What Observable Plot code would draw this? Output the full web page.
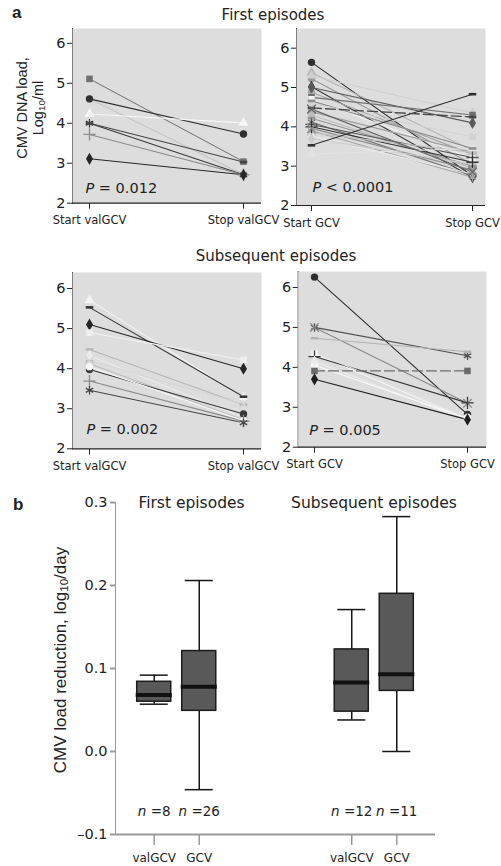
<!DOCTYPE html>
<html><head><meta charset="utf-8">
<script src="https://cdn.jsdelivr.net/npm/d3@7"></script>
<script src="https://cdn.jsdelivr.net/npm/@observablehq/plot@0.6"></script>
<style>
html,body{margin:0;padding:0;background:#fff;}
#fig{position:relative;width:501px;height:866px;overflow:hidden;font-family:"DejaVu Sans",sans-serif;color:#222;}
.lbl{position:absolute;white-space:nowrap;line-height:1;color:#222;}
.lbl sub{font-size:0.68em;vertical-align:-0.22em;line-height:0;}
.pa [aria-label^="x-axis"] text{font-size:11.5px;}
.pa [aria-label^="y-axis"] text{font-size:14.5px;}
#b1 [aria-label^="x-axis"] text{font-size:12px;fill:#222;}
#b1 [aria-label^="x-axis"] line, #b1 [aria-label^="x-axis"] path{stroke-width:1.5px;}
#b2 text{fill:#222;font-size:14.5px;}
#b2 [aria-label^="y-axis"] line, #b2 [aria-label^="y-axis"] path{stroke-width:2px;}
</style></head>
<body><div id="fig"></div>
<script>
// ---------- DATA ----------
// Panel a: CMV DNA load (log10/ml) at start and stop of treatment
const phasesValGCV = ["Start valGCV", "Stop valGCV"];
const phasesGCV = ["Start GCV", "Stop GCV"];
const loadTicks = [2, 3, 4, 5, 6];

// First episodes, valGCV (n = 8)
const firstValStart = [4.61, 5.11, 4.61, 4.23, 4.00, 4.00, 3.72, 3.11];
const firstValStop  = [2.71, 3.04, 3.73, 4.01, 2.71, 3.03, 2.71, 2.71];
const firstValP = "P = 0.012";

// First episodes, GCV (n = 26)
const firstGcvStart = [5.64, 5.38, 5.30, 5.22, 5.02, 5.00, 4.88, 4.75, 4.70, 4.66, 4.60, 4.48, 4.38,
                       4.30, 4.22, 4.12, 4.06, 4.00, 3.96, 3.90, 3.85, 3.76, 3.70, 3.53, 3.31, 4.45];
const firstGcvStop  = [2.75, 3.40, 4.35, 3.05, 2.72, 4.10, 3.30, 4.30, 3.20, 3.45, 3.75, 4.25, 3.35,
                       2.95, 3.00, 2.76, 3.22, 3.10, 2.90, 2.72, 3.35, 2.80, 3.05, 4.83, 3.45, 2.85];
const firstGcvP = "P < 0.0001";

// Subsequent episodes, valGCV (n = 12)
const subsValStart = [5.71, 5.53, 5.10, 4.90, 4.48, 4.32, 4.12, 3.98, 3.69, 3.46, 4.20, 4.05];
const subsValStop  = [3.28, 3.30, 4.00, 4.22, 3.10, 2.78, 2.72, 2.87, 2.69, 2.65, 3.12, 2.70];
const subsValP = "P = 0.002";

// Subsequent episodes, GCV (n = 11)
const subsGcvStart = [6.26, 5.00, 5.00, 4.73, 4.34, 4.27, 4.15, 3.91, 3.70, 4.38, 4.05];
const subsGcvStop  = [2.82, 4.29, 3.10, 4.39, 2.70, 3.11, 2.66, 3.91, 2.69, 2.75, 2.72];
const subsGcvP = "P = 0.005";

// Panel b: CMV load reduction (log10/day) box plots
const boxEpisode = ["First episodes", "First episodes", "Subsequent episodes", "Subsequent episodes"];
const boxDrug    = ["valGCV", "GCV", "valGCV", "GCV"];
const boxLow     = [0.057, -0.046, 0.038, 0.000];
const boxQ1      = [0.060, 0.049, 0.048, 0.073];
const boxMedian  = [0.068, 0.078, 0.083, 0.093];
const boxQ3      = [0.084, 0.121, 0.123, 0.190];
const boxHigh    = [0.092, 0.206, 0.171, 0.283];
const boxN       = [8, 26, 12, 11];
const drugs = ["valGCV", "GCV"];
const episodes = ["First episodes", "Subsequent episodes"];
const rateTicks = [-0.1, 0, 0.1, 0.2, 0.3];

// ---------- STYLES (per series) ----------
const firstValShade  = ["#c4c4c4", "#707070", "#303030", "#f6f6f6", "#3a3a3a", "#474747", "#8a8a8a", "#262626"];
const firstValMarker = ["circle", "square", "circle", "triangle", "asterisk", "dash", "plus", "diamond"];
const firstValDashed = [];

const firstGcvShade  = ["#2e2e2e", "#b5b5b5", "#cfcfcf", "#9a9a9a", "#3d3d3d", "#5a5a5a", "#a8a8a8", "#6e6e6e", "#f2f2f2",
                        "#8c8c8c", "#d2d2d2", "#474747", "#a0a0a0", "#bcbcbc", "#959595", "#7a7a7a", "#555555", "#333333",
                        "#8f8f8f", "#a5a5a5", "#c0c0c0", "#ececec", "#cccccc", "#2f2f2f", "#e2e2e2", "#666666"];
const firstGcvMarker = ["circle", "triangle", "triangle", "circle", "diamond", "diamond", "circle", "square", "square",
                        "dash", "square", "dash", "circle", "circle", "dash", "asterisk", "plus", "plus",
                        "times", "asterisk", "triangle", "diamond", "diamond", "dash", "triangle", "times"];
const firstGcvDashed = [11];

const subsValShade  = ["#f4f4f4", "#333333", "#262626", "#efefef", "#b5b5b5", "#ebebeb", "#bdbdbd", "#3a3a3a", "#8a8a8a", "#474747", "#d6d6d6", "#f7f7f7"];
const subsValMarker = ["triangle", "dash", "diamond", "square", "dash", "diamond", "square2", "circle", "plus", "asterisk", "times", "circle"];
const subsValDashed = [];

const subsGcvShade  = ["#2e2e2e", "#505050", "#8a8a8a", "#b3b3b3", "#f5f5f5", "#3a3a3a", "#ececec", "#6b6b6b", "#1f1f1f", "#e0e0e0", "#fafafa"];
const subsGcvMarker = ["circle", "asterisk", "times", "dash", "square", "plus", "diamond", "square", "diamond", "circle", "circle"];
const subsGcvDashed = [7];

// ---------- HELPERS ----------
const fig = document.getElementById("fig");
function place(el, left, top, id, cls) {
  el.style.position = "absolute";
  el.style.left = left + "px";
  el.style.top = top + "px";
  if (id) el.id = id;
  if (cls) el.classList.add(cls);
  fig.appendChild(el);
  return el;
}
function label(html, x, baseline, size, {anchor = "middle", weight = "normal", family = "DejaVu Sans"} = {}) {
  const d = document.createElement("div");
  d.className = "lbl";
  d.innerHTML = html;
  d.style.fontSize = size + "px";
  d.style.fontWeight = weight;
  d.style.fontFamily = family;
  d.style.top = (baseline - 0.846 * size) + "px";
  d.style.left = x + "px";
  if (anchor === "middle") d.style.transform = "translateX(-50%)";
  fig.appendChild(d);
}
function vlabel(html, cx, cy, size, lineHeight, family) {
  const d = document.createElement("div");
  d.className = "lbl";
  d.innerHTML = html;
  d.style.fontSize = size + "px";
  d.style.lineHeight = lineHeight + "px";
  d.style.fontFamily = family;
  d.style.textAlign = "center";
  d.style.left = cx + "px";
  d.style.top = cy + "px";
  d.style.transform = "translate(-50%,-50%) rotate(-90deg)";
  fig.appendChild(d);
}
function italicize(svg) {
  svg.querySelectorAll("text").forEach(t => {
    let node = t;
    while (node.children.length === 1) node = node.children[0];
    if (node.children.length) return;
    const s = node.textContent;
    if (/^[Pn] [=<]/.test(s)) {
      node.textContent = "";
      const i = document.createElementNS("http://www.w3.org/2000/svg", "tspan");
      i.setAttribute("font-style", "italic");
      i.textContent = s[0];
      node.appendChild(i);
      node.appendChild(document.createTextNode(s.slice(1)));
    }
  });
}
const dashSymbol = {
  draw(ctx, size) {
    const w = Math.sqrt(size) * 1.15, h = w * 0.34;
    ctx.moveTo(-w / 2, -h / 2); ctx.lineTo(w / 2, -h / 2); ctx.lineTo(w / 2, h / 2); ctx.lineTo(-w / 2, h / 2); ctx.closePath();
  }
};
const hollow = new Set(["asterisk", "plus", "times", "square2", "triangle2", "diamond2"]);

function loadPanel({start, stop, shade, marker, dashed, phases, p, domain, width, height, mt, mb, ml, mr, insetL, insetR, pdx, pdy}) {
  const rows = [];
  start.forEach((v, i) => {
    const s = {id: i, shade: shade[i], marker: marker[i], dashed: dashed.includes(i)};
    rows.push({...s, phase: phases[0], value: v});
    rows.push({...s, phase: phases[1], value: stop[i]});
  });
  const types = [...new Set(rows.map(r => r.marker))];
  const dots = types.map(t => {
    const sub = rows.filter(r => r.marker === t);
    const sym = t === "dash" ? dashSymbol : t;
    return hollow.has(t)
      ? Plot.dot(sub, {x: "phase", y: "value", symbol: sym, stroke: "shade", strokeWidth: 1.3, r: 4})
      : Plot.dot(sub, {x: "phase", y: "value", symbol: sym, fill: "shade", stroke: "none", r: 3.7});
  });
  const svg = Plot.plot({
    width, height, marginTop: mt, marginBottom: mb, marginLeft: ml, marginRight: mr,
    style: {background: "none", color: "#222", fontFamily: "DejaVu Sans", fontSize: "12px", overflow: "visible"},
    x: {type: "point", domain: phases, padding: 0, insetLeft: insetL, insetRight: insetR, tickSize: 6, tickPadding: 7, label: null},
    y: {domain, ticks: loadTicks, tickFormat: d => String(d), tickSize: 5, tickPadding: 2, line: true, label: null},
    color: {type: "identity"},
    marks: [
      Plot.frame({fill: "#dddddd"}),
      Plot.ruleY([domain[0]], {stroke: "#222", strokeWidth: 1.2}),
      Plot.line(rows.filter(r => !r.dashed), {x: "phase", y: "value", z: "id", stroke: "shade", strokeWidth: 1.1}),
      Plot.line(rows.filter(r => r.dashed), {x: "phase", y: "value", z: "id", stroke: "shade", strokeWidth: 1.3, strokeDasharray: "10,4"}),
      ...dots,
      Plot.text([p], {text: d => d, frameAnchor: "bottom-left", textAnchor: "start", lineAnchor: "middle", dx: pdx, dy: pdy, fontSize: 14.5, fill: "#222"})
    ]
  });
  italicize(svg);
  return svg;
}

// ---------- PANEL a ----------
place(loadPanel({start: firstValStart, stop: firstValStop, shade: firstValShade, marker: firstValMarker, dashed: firstValDashed,
  phases: phasesValGCV, p: firstValP, domain: [2, 6.37], width: 265, height: 225, mt: 28, mb: 22.3, ml: 72, mr: 4,
  insetL: 17, insetR: 18, pdx: 13, pdy: -15}), 0, 0, "tl", "pa");
place(loadPanel({start: firstGcvStart, stop: firstGcvStop, shade: firstGcvShade, marker: firstGcvMarker, dashed: firstGcvDashed,
  phases: phasesGCV, p: firstGcvP, domain: [2, 6.5], width: 261, height: 225, mt: 28, mb: 20, ml: 56, mr: 16,
  insetL: 15, insetR: 12.3, pdx: 16, pdy: -18}), 240, 0, "tr", "pa");
place(loadPanel({start: subsValStart, stop: subsValStop, shade: subsValShade, marker: subsValMarker, dashed: subsValDashed,
  phases: phasesValGCV, p: subsValP, domain: [2, 6.4], width: 265, height: 225, mt: 27, mb: 21.7, ml: 72, mr: 4,
  insetL: 17, insetR: 18, pdx: 14, pdy: -19}), 0, 245, "bl", "pa");
place(loadPanel({start: subsGcvStart, stop: subsGcvStop, shade: subsGcvShade, marker: subsGcvMarker, dashed: subsGcvDashed,
  phases: phasesGCV, p: subsGcvP, domain: [2, 6.4], width: 261, height: 225, mt: 26, mb: 23.3, ml: 57.7, mr: 15,
  insetL: 16.5, insetR: 18.3, pdx: 11, pdy: -17}), 240, 245, "br", "pa");

label("a", 12, 18, 17, {anchor: "start", weight: "bold", family: "Liberation Sans"});
label("First episodes", 273, 21, 15);
label("Subsequent episodes", 276, 262, 15);
vlabel("CMV DNA load,<br>Log<sub>10</sub>/ml", 30, 108, 14.5, 16, "Liberation Sans");

// ---------- PANEL b ----------
const boxTable = boxEpisode.map((e, i) => ({
  episode: e, drug: boxDrug[i], low: boxLow[i], q1: boxQ1[i], median: boxMedian[i], q3: boxQ3[i], high: boxHigh[i], n: boxN[i]
}));
const bDims = {width: 501, height: 386, marginTop: 22, marginBottom: 32, marginLeft: 115, marginRight: 66};

const b2 = Plot.plot({
  ...bDims,
  style: {background: "none", color: "#9a9a9a", fontFamily: "DejaVu Sans", fontSize: "14.5px", overflow: "visible"},
  y: {domain: [-0.1, 0.3], ticks: rateTicks, tickFormat: d => (d < 0 ? "\u2013" + Math.abs(d).toFixed(1) : d.toFixed(1)),
      tickSize: 5, tickPadding: 3, line: true, label: null},
  marks: [Plot.ruleY([-0.1], {stroke: "#9a9a9a", strokeWidth: 1.8})]
});
place(b2, 0, 480, "b2");

const b1 = Plot.plot({
  ...bDims,
  style: {background: "none", color: "#9a9a9a", fontFamily: "DejaVu Sans", fontSize: "12px", overflow: "visible"},
  facet: {data: boxTable, x: "episode"},
  fx: {domain: episodes, paddingInner: 0.5, paddingOuter: 0.06, round: false, axis: null, label: null},
  x: {domain: drugs, paddingInner: 0.244, paddingOuter: 0.219, round: false, tickSize: 11, tickPadding: 8, label: null},
  y: {domain: [-0.1, 0.3], axis: null},
  marks: [
    Plot.ruleX(boxTable, {x: "drug", y1: "low", y2: "q1", stroke: "#151515", strokeWidth: 1.5}),
    Plot.ruleX(boxTable, {x: "drug", y1: "q3", y2: "high", stroke: "#151515", strokeWidth: 1.5}),
    Plot.tickY(boxTable, {x: "drug", y: "low", stroke: "#151515", strokeWidth: 1.5, insetLeft: 3, insetRight: 3}),
    Plot.tickY(boxTable, {x: "drug", y: "high", stroke: "#151515", strokeWidth: 1.5, insetLeft: 3, insetRight: 3}),
    Plot.barY(boxTable, {x: "drug", y1: "q1", y2: "q3", fill: "#595959", stroke: "#1c1c1c", strokeWidth: 1.5}),
    Plot.tickY(boxTable, {x: "drug", y: "median", stroke: "#111", strokeWidth: 4, insetLeft: -1, insetRight: -1}),
    Plot.text(boxTable, {x: "drug", text: d => "n =" + d.n, frameAnchor: "bottom", lineAnchor: "middle", dy: -23, fontSize: 13.5, fill: "#222"})
  ]
});
italicize(b1);
place(b1, 0, 480, "b1");

label("b", 13, 510, 17, {anchor: "start", weight: "bold", family: "Liberation Sans"});
label("First episodes", 191.5, 509, 15.5);
label("Subsequent episodes", 374, 509, 15.5);
vlabel("CMV load reduction, log<sub>10</sub>/day", 60, 660, 17, 17, "Liberation Sans");
</script>
</body></html>
